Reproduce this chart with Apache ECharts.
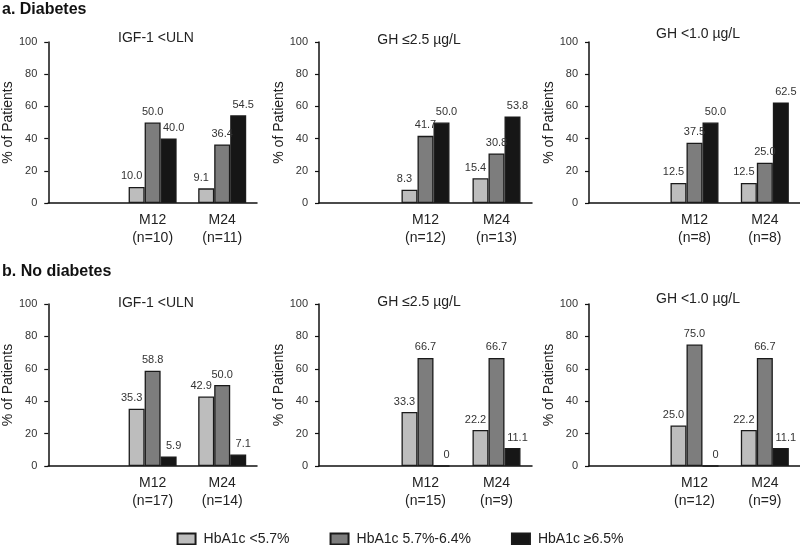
<!DOCTYPE html>
<html>
<head>
<meta charset="utf-8">
<script src="https://cdn.jsdelivr.net/npm/echarts@6/dist/echarts.min.js"></script>
<style>html,body{margin:0;padding:0;background:#fff;}#c{width:800px;height:545px;}</style>
</head>
<body>
<div id="c"></div>
<script>
// ---- data ----
const levelNames = ['HbA1c <5.7%', 'HbA1c 5.7%-6.4%', 'HbA1c \u22656.5%'];
const panelTitles = ['IGF-1 <ULN', 'GH \u22642.5 \u00b5g/L', 'GH <1.0 \u00b5g/L'];
const sectionTitles = ['a. Diabetes', 'b. No diabetes'];
const yTicks = [0, 20, 40, 60, 80, 100];

// a. Diabetes
const dIgfCats  = ['M12\n(n=10)', 'M24\n(n=11)'];
const dIgfLow   = [10.0, 9.1];
const dIgfMid   = [50.0, 36.4];
const dIgfHigh  = [40.0, 54.5];

const dGh25Cats = ['M12\n(n=12)', 'M24\n(n=13)'];
const dGh25Low  = [8.3, 15.4];
const dGh25Mid  = [41.7, 30.8];
const dGh25High = [50.0, 53.8];

const dGh10Cats = ['M12\n(n=8)', 'M24\n(n=8)'];
const dGh10Low  = [12.5, 12.5];
const dGh10Mid  = [37.5, 25.0];
const dGh10High = [50.0, 62.5];

// b. No diabetes
const nIgfCats  = ['M12\n(n=17)', 'M24\n(n=14)'];
const nIgfLow   = [35.3, 42.9];
const nIgfMid   = [58.8, 50.0];
const nIgfHigh  = [5.9, 7.1];

const nGh25Cats = ['M12\n(n=15)', 'M24\n(n=9)'];
const nGh25Low  = [33.3, 22.2];
const nGh25Mid  = [66.7, 66.7];
const nGh25High = [0, 11.1];

const nGh10Cats = ['M12\n(n=12)', 'M24\n(n=9)'];
const nGh10Low  = [25.0, 22.2];
const nGh10Mid  = [75.0, 66.7];
const nGh10High = [0, 11.1];

const panels = [
  {cats: dIgfCats,  vals: [dIgfLow,  dIgfMid,  dIgfHigh]},
  {cats: dGh25Cats, vals: [dGh25Low, dGh25Mid, dGh25High]},
  {cats: dGh10Cats, vals: [dGh10Low, dGh10Mid, dGh10High]},
  {cats: nIgfCats,  vals: [nIgfLow,  nIgfMid,  nIgfHigh]},
  {cats: nGh25Cats, vals: [nGh25Low, nGh25Mid, nGh25High]},
  {cats: nGh10Cats, vals: [nGh10Low, nGh10Mid, nGh10High]}
];

// ---- layout / style ----
const colors = ['#bdbdbd', '#7d7d7d', '#161616'];
const labelShift = [-5, 0, 5];
const colLeft = [44, 319, 589];
const colWidth = [213, 213, 211];
const rowTop = [42, 304];
const rowHeight = [161, 162];
const titleCenters = [[156, 38], [419, 40], [698, 34], [156, 303], [419, 302], [698, 299]];
const FONT = 'Liberation Sans, Arial, sans-serif';

const grids = [], xAxes = [], yAxes = [], series = [], titles = [];

sectionTitles.forEach((t, r) => {
  titles.push({
    text: t, left: 2, top: r === 0 ? 2 : 264, padding: 0,
    textStyle: {fontFamily: FONT, fontSize: 16, fontWeight: 'bold', color: '#111'}
  });
});

panels.forEach((p, i) => {
  const r = Math.floor(i / 3), c = i % 3;
  grids.push({left: colLeft[c], top: rowTop[r], width: colWidth[c], height: rowHeight[r], containLabel: false});
  xAxes.push({
    type: 'category', gridIndex: i, data: [''].concat(p.cats),
    axisLine: {lineStyle: {color: '#111', width: 1.5}},
    axisTick: {show: false},
    axisLabel: {color: '#222', fontFamily: FONT, fontSize: 14, lineHeight: 18, margin: 8, interval: 0}
  });
  yAxes.push({
    type: 'value', gridIndex: i, min: yTicks[0], max: yTicks[yTicks.length - 1], interval: yTicks[1] - yTicks[0],
    name: '% of Patients', nameLocation: 'middle', nameRotate: 90, nameGap: 30,
    nameTextStyle: {color: '#222', fontFamily: FONT, fontSize: 14},
    axisLine: {show: true, lineStyle: {color: '#111', width: 1.5}},
    axisTick: {show: true, length: 4, lineStyle: {color: '#111', width: 1.2}},
    splitLine: {show: false},
    axisLabel: {color: '#333', fontFamily: FONT, fontSize: 11, margin: 11}
  });
  titles.push({
    text: panelTitles[c], left: titleCenters[i][0], top: titleCenters[i][1] - 7, textAlign: 'center', padding: 0,
    textStyle: {fontFamily: FONT, fontSize: 14, fontWeight: 'normal', color: '#222'}
  });
  p.vals.forEach((arr, k) => {
    series.push({
      type: 'bar', name: levelNames[k], xAxisIndex: i, yAxisIndex: i,
      data: [null].concat(arr),
      barWidth: 16, barGap: '0%',
      itemStyle: {color: colors[k], borderColor: '#1a1a1a', borderWidth: 1.3},
      label: {
        show: true, position: 'top', distance: 5, offset: [labelShift[k], 0],
        color: '#333', fontFamily: FONT, fontSize: 11,
        formatter: (d) => d.value === 0 ? '0' : Number(d.value).toFixed(1)
      },
      emphasis: {disabled: true},
      animation: false
    });
  });
});

const chart = echarts.init(document.getElementById('c'), null, {renderer: 'canvas'});
chart.setOption({
  backgroundColor: '#fff',
  animation: false,
  title: titles,
  grid: grids,
  xAxis: xAxes,
  yAxis: yAxes,
  legend: {
    data: levelNames, left: 'center', top: 527, icon: 'rect',
    itemWidth: 18, itemHeight: 11, itemGap: 40,
    textStyle: {color: '#222', fontFamily: FONT, fontSize: 14, padding: [0, 0, 0, 3]}
  },
  series: series
});
</script>
</body>
</html>
